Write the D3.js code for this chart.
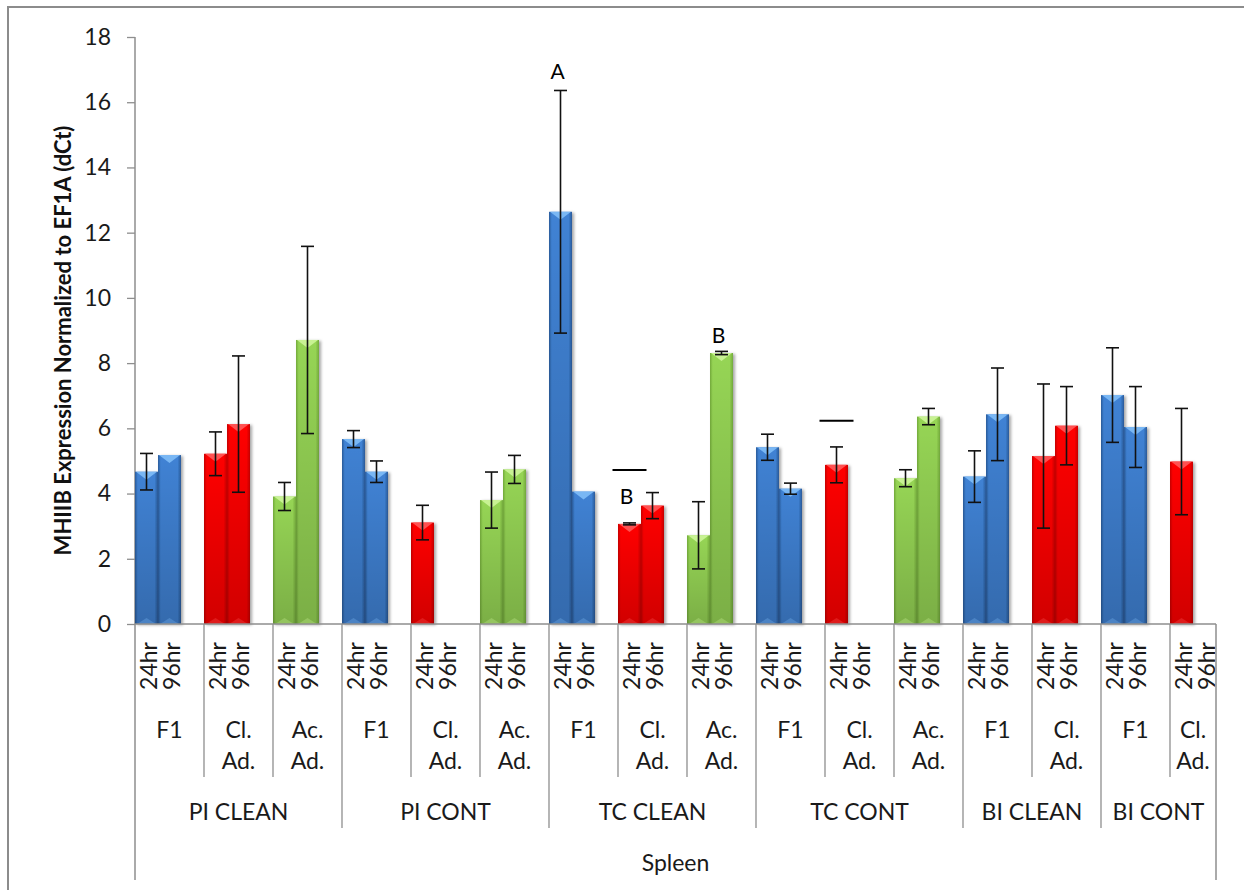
<!DOCTYPE html>
<html>
<head>
<meta charset="utf-8">
<script src="https://cdn.jsdelivr.net/npm/d3@7/dist/d3.min.js"></script>
<style>
  html, body { margin: 0; padding: 0; background: #fff; }
  svg { display: block; font-family: Lato, "Open Sans", "Liberation Sans", sans-serif; }
</style>
</head>
<body>
<svg id="chart" width="1244" height="890"></svg>
<script>
// Top-level categories (tissue / condition)
const groups = ["PI CLEAN", "PI CONT", "TC CLEAN", "TC CONT", "BI CLEAN", "BI CONT"];
// Second-level categories, in plotting order, and the group each one belongs to
const subgroupLabels = ["F1", "Cl. Ad.", "Ac. Ad.", "F1", "Cl. Ad.", "Ac. Ad.",
                        "F1", "Cl. Ad.", "Ac. Ad.", "F1", "Cl. Ad.", "Ac. Ad.",
                        "F1", "Cl. Ad.", "F1", "Cl. Ad."];
const subgroupGroup = [0, 0, 0, 1, 1, 1, 2, 2, 2, 3, 3, 3, 4, 4, 5, 5];
// Time points
const times = ["24hr", "96hr"];
// Mean dCt per subgroup and time point (null = no sample)
const mean24 = [4.67, 5.22, 3.91, 5.67, 3.11, 3.80, 12.64, 3.07, 2.72, 5.42, 4.88, 4.47, 4.52, 5.15, 7.02, 4.98];
const mean96 = [5.18, 6.13, 8.71, 4.67, null, 4.74, 4.06, 3.63, 8.31, 4.15, null, 6.36, 6.43, 6.08, 6.04, null];
// Error (± half range)
const err24 = [0.56, 0.67, 0.43, 0.26, 0.53, 0.86, 3.72, 0.03, 1.03, 0.40, 0.55, 0.26, 0.79, 2.21, 1.45, 1.63];
const err96 = [0, 2.09, 2.87, 0.33, null, 0.43, 0, 0.40, 0.05, 0.17, null, 0.25, 1.42, 1.20, 1.24, null];
// Y axis ticks
const yTicks = [0, 2, 4, 6, 8, 10, 12, 14, 16, 18];
// Significance letters: subgroup index, time index, level in axis units
const sigLetters = [
  { sub: 6, t: 0, text: "A", level: 16.96 },
  { sub: 7, t: 0, text: "B", level: 3.93 },
  { sub: 8, t: 1, text: "B", level: 8.87 }
];
// Bars marked with a dash above them
const sigDashes = [
  { sub: 7, t: 0, level: 4.72 },
  { sub: 10, t: 0, level: 6.23 }
];

const svg = d3.select("#chart");

// Colour scheme by subgroup type
const palette = {
  "F1":      { edge: "#2a5b9a", mid: "#3f82d4", light: "#7fbdf7", name: "blue" },
  "Cl. Ad.": { edge: "#c80000", mid: "#ff0000", light: "#ff5a5a", name: "red" },
  "Ac. Ad.": { edge: "#74ab3c", mid: "#96d554", light: "#cdf59a", name: "green" }
};

const defs = svg.append("defs");
Object.values(palette).forEach(p => {
  const g = defs.append("linearGradient").attr("id", "grad-" + p.name)
    .attr("x1", "0").attr("x2", "1").attr("y1", "0").attr("y2", "0");
  [[0, p.edge], [0.12, p.mid], [0.45, p.mid], [0.85, p.mid], [1, p.edge]].forEach(([o, c]) =>
    g.append("stop").attr("offset", o).attr("stop-color", c));
});
const shade = defs.append("linearGradient").attr("id", "shade")
  .attr("x1", "0").attr("x2", "0").attr("y1", "0").attr("y2", "1");
shade.append("stop").attr("offset", 0).attr("stop-color", "#000").attr("stop-opacity", 0);
shade.append("stop").attr("offset", 1).attr("stop-color", "#000").attr("stop-opacity", 0.18);
const shadow = defs.append("filter").attr("id", "barShadow")
  .attr("x", "-20%").attr("y", "-5%").attr("width", "150%").attr("height", "115%");
shadow.append("feDropShadow").attr("dx", 2).attr("dy", 1).attr("stdDeviation", 1.6)
  .attr("flood-color", "#000").attr("flood-opacity", 0.35);

// Chart frame
svg.append("rect").attr("x", 8).attr("y", 7).attr("width", 1250).attr("height", 900)
  .attr("fill", "none").attr("stroke", "#8c8c8c").attr("stroke-width", 2);

// Leaf slots: each subgroup takes 24hr, 96hr and an empty spacer slot
const nLeaves = subgroupLabels.length * 3 - 1;
const x = d3.scaleBand().domain(d3.range(nLeaves)).range([135, 1216]).padding(0);
const y = d3.scaleLinear().domain([0, 18]).range([624, 37]);
const bw = x.bandwidth();
const leaf = (s, t) => s * 3 + t;

const axisColor = "#8e8e8e";
const textColor = "#1a1a1a";

// Y axis
const yAxis = svg.append("g").attr("transform", "translate(135,0)")
  .call(d3.axisLeft(y).tickValues(yTicks).tickSize(8).tickPadding(16).tickFormat(d3.format("d")));
yAxis.select(".domain").remove();
yAxis.selectAll(".tick line").attr("stroke", axisColor).attr("stroke-width", 1.3);
yAxis.selectAll(".tick text").attr("fill", textColor).style("font-size", "23px")
  .style("font-family", "Lato, sans-serif");
svg.append("line").attr("x1", 135).attr("x2", 135).attr("y1", y(18)).attr("y2", 880)
  .attr("stroke", axisColor).attr("stroke-width", 1.5);

// Y title
svg.append("text")
  .attr("transform", `translate(62,${(y(18) + y(0)) / 2 + 10}) rotate(-90)`)
  .attr("text-anchor", "middle").attr("dominant-baseline", "central")
  .attr("fill", "#111").style("font-size", "22px").style("font-weight", "bold")
  .text("MHIIB Expression Normalized to EF1A (dCt)");

// Bars
const bars = [];
subgroupLabels.forEach((lab, s) => {
  [mean24[s], mean96[s]].forEach((v, t) => {
    if (v == null) return;
    bars.push({ s, t, v, e: t === 0 ? err24[s] : err96[s], type: lab });
  });
});

const barG = svg.append("g");
bars.forEach(b => {
  const p = palette[b.type];
  const x0 = x(leaf(b.s, b.t));
  const top = y(b.v);
  const h = y(0) - top;
  const g = barG.append("g");
  g.append("rect").attr("x", x0).attr("y", top).attr("width", bw).attr("height", h)
    .attr("fill", `url(#grad-${p.name})`).attr("filter", "url(#barShadow)");
  g.append("rect").attr("x", x0).attr("y", top).attr("width", bw).attr("height", h)
    .attr("fill", "url(#shade)");
  g.append("polygon")
    .attr("points", `${x0 + 1},${top} ${x0 + bw - 1},${top} ${x0 + bw / 2},${top + 8}`)
    .attr("fill", p.light).attr("opacity", 0.9);
  g.append("polygon")
    .attr("points", `${x0 + 2},${y(0)} ${x0 + bw - 2},${y(0)} ${x0 + bw / 2},${y(0) - 6}`)
    .attr("fill", p.light).attr("opacity", 0.3);
});

// Error bars
const errG = svg.append("g").attr("stroke", "#111").attr("stroke-width", 1.6);
bars.filter(b => b.e > 0).forEach(b => {
  const cx = x(leaf(b.s, b.t)) + bw / 2;
  const hi = y(b.v + b.e), lo = y(b.v - b.e);
  errG.append("line").attr("x1", cx).attr("x2", cx).attr("y1", hi).attr("y2", lo);
  errG.append("line").attr("x1", cx - 6.5).attr("x2", cx + 6.5).attr("y1", hi).attr("y2", hi);
  errG.append("line").attr("x1", cx - 6.5).attr("x2", cx + 6.5).attr("y1", lo).attr("y2", lo);
});

// X axis baseline
svg.append("line").attr("x1", 135).attr("x2", 1216).attr("y1", y(0)).attr("y2", y(0))
  .attr("stroke", axisColor).attr("stroke-width", 1.5);

// Leaf labels (time points)
const leafG = svg.append("g").attr("fill", textColor).style("font-size", "23px");
subgroupLabels.forEach((lab, s) => {
  times.forEach((tm, t) => {
    const cx = x(leaf(s, t)) + bw / 2;
    leafG.append("text")
      .attr("transform", `translate(${cx + 1},642) rotate(-90)`)
      .attr("text-anchor", "end").attr("dominant-baseline", "central")
      .text(tm);
  });
});

// Subgroup dividers and labels
const subG = svg.append("g");
subgroupLabels.forEach((lab, s) => {
  const xs = x(leaf(s, 0));
  const isGroupStart = s === 0 || subgroupGroup[s] !== subgroupGroup[s - 1];
  if (s > 0) {
    subG.append("line").attr("x1", xs).attr("x2", xs).attr("y1", y(0))
      .attr("y2", isGroupStart ? 828 : 777)
      .attr("stroke", axisColor).attr("stroke-width", 1.3);
  }
  const xe = s === subgroupLabels.length - 1 ? x.range()[1] : x(leaf(s + 1, 0));
  const cx = (xs + xe) / 2;
  const words = lab.split(" ");
  words.forEach((w, i) => {
    subG.append("text").attr("x", cx).attr("y", 729 + i * 31)
      .attr("text-anchor", "middle").attr("dominant-baseline", "central")
      .attr("fill", textColor).style("font-size", "23px").text(w);
  });
});
svg.append("line").attr("x1", 1216).attr("x2", 1216).attr("y1", y(0)).attr("y2", 880)
  .attr("stroke", axisColor).attr("stroke-width", 1.5);

// Group labels
groups.forEach((gname, gi) => {
  const subs = d3.range(subgroupLabels.length).filter(s => subgroupGroup[s] === gi);
  const xs = x(leaf(subs[0], 0));
  const last = subs[subs.length - 1];
  const xe = last === subgroupLabels.length - 1 ? x.range()[1] : x(leaf(last + 1, 0));
  svg.append("text").attr("x", (xs + xe) / 2).attr("y", 811)
    .attr("text-anchor", "middle").attr("dominant-baseline", "central")
    .attr("fill", textColor).style("font-size", "23px").text(gname);
});

// Outer category title
svg.append("text").attr("x", (x.range()[0] + x.range()[1]) / 2).attr("y", 862)
  .attr("text-anchor", "middle").attr("dominant-baseline", "central")
  .attr("fill", textColor).style("font-size", "23px").text("Spleen");

// Significance annotations
sigLetters.forEach(a => {
  svg.append("text").attr("x", x(leaf(a.sub, a.t)) + bw / 2 - 3).attr("y", y(a.level))
    .attr("text-anchor", "middle").attr("dominant-baseline", "central")
    .attr("fill", "#000").style("font-size", "21px").text(a.text);
});
sigDashes.forEach(d => {
  const cx = x(leaf(d.sub, d.t)) + bw / 2;
  svg.append("line").attr("x1", cx - 17).attr("x2", cx + 17)
    .attr("y1", y(d.level)).attr("y2", y(d.level))
    .attr("stroke", "#000").attr("stroke-width", 2);
});
</script>
</body>
</html>
